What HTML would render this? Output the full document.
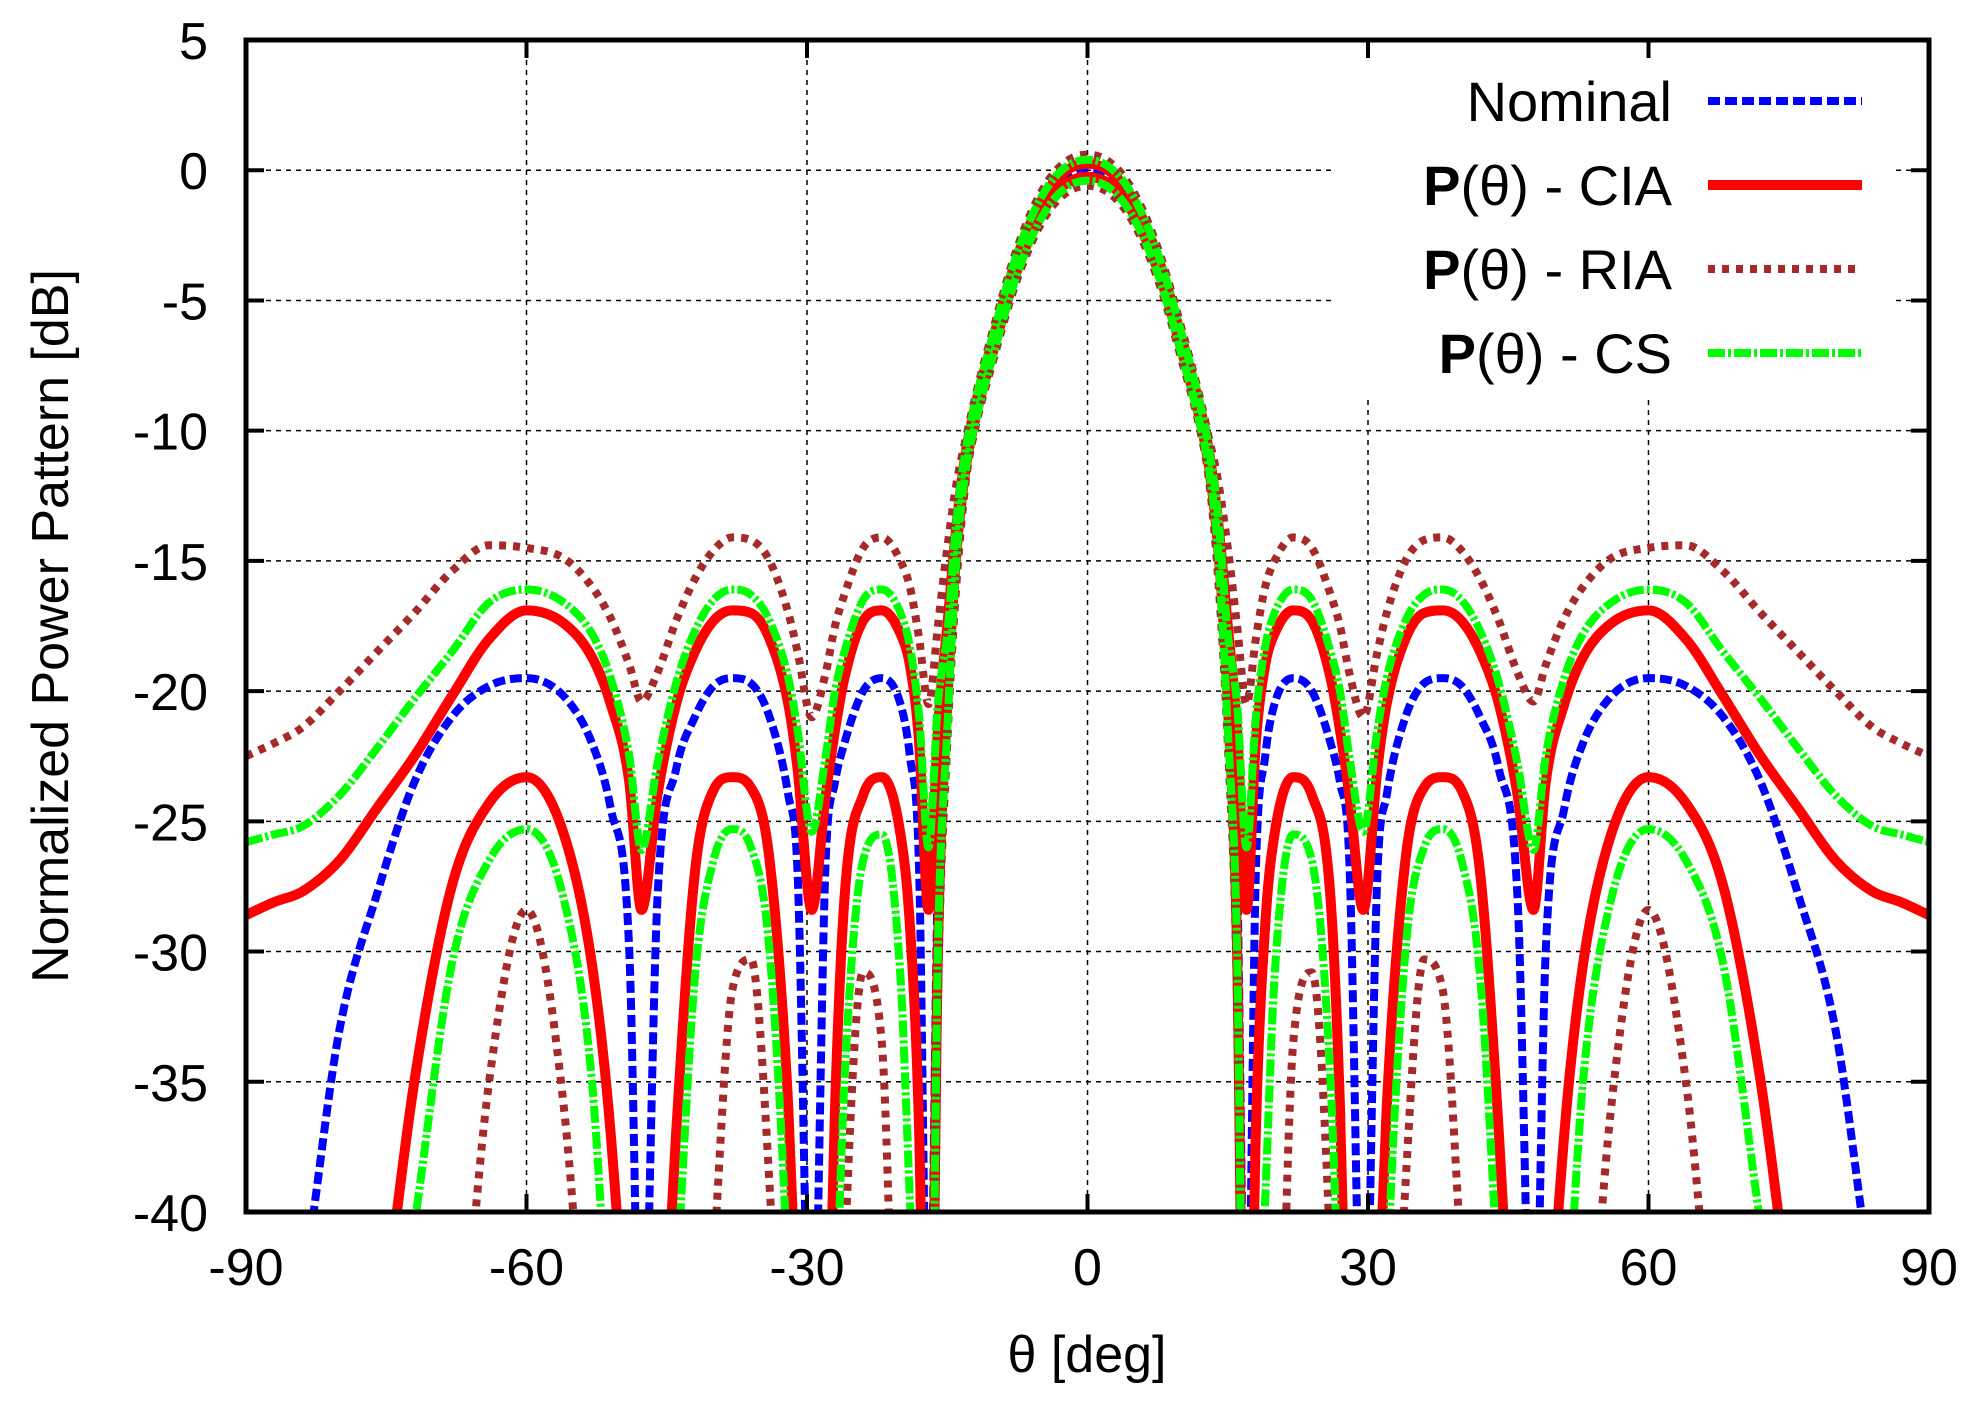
<!DOCTYPE html>
<html><head><meta charset="utf-8">
<style>
html,body{margin:0;padding:0;background:#fff;overflow:hidden;width:1983px;height:1403px;}
svg{display:block;font-family:"Liberation Sans",Arial,sans-serif;}
</style></head>
<body>
<svg id="chart" width="1983" height="1403" viewBox="0 0 1983 1403" xmlns="http://www.w3.org/2000/svg">
<defs><clipPath id="plotclip"><rect x="246" y="40" width="1683" height="1172"/></clipPath></defs>
<g id="grid"></g>
<rect x="1336" y="42" width="560" height="356" fill="#fff"/>
<g id="series" clip-path="url(#plotclip)"></g>
<g id="axes"></g>
<text x="1087" y="1372" font-size="52" text-anchor="middle">θ [deg]</text>
<text transform="translate(68,626) rotate(-90)" font-size="52" text-anchor="middle">Normalized Power Pattern [dB]</text>
<g id="legend"></g>
</svg>
<script>
const xTicks=[-90,-60,-30,0,30,60,90];
const yTicks=[5,0,-5,-10,-15,-20,-25,-30,-35,-40];
// positive-half angles (mirrored for negative side)
const angles=[0,2,4,6,8,10,12,13,14,15,16,17,18,19,20,22,24,26,27,28,29.5,31,32,34,36,38,40,42,44,46,47.7,49,51,53,56,60,64,68,72,76,80,84,87,90];
const nominal=[0,-0.2,-0.9,-2.2,-4.1,-6.6,-9.3,-11.1,-14.1,-19.5,-27,-48,-27,-22.5,-20.5,-19.5,-20,-22,-23.5,-26.5,-48,-27,-24,-21,-19.7,-19.5,-19.8,-21,-23,-28,-48,-30,-24.5,-22,-20.2,-19.5,-19.8,-21,-23.5,-27.8,-33,-43,-48,-55];
const ciaUpper=[0.25,0.05,-0.65,-1.95,-3.85,-6.35,-9.05,-10.8,-13.6,-17.5,-21.5,-28.4,-22,-19,-17.8,-16.9,-17.3,-19.5,-21.5,-24,-28.4,-23,-20.5,-18,-17,-16.9,-17.3,-18.5,-20.5,-24,-28.4,-23.5,-20.5,-18.7,-17.4,-16.9,-18,-20.2,-22.5,-24.5,-26.5,-27.7,-28.1,-28.6];
const ciaLower=[-0.25,-0.45,-1.15,-2.45,-4.35,-6.85,-9.55,-11.4,-14.6,-20.5,-30,-55,-37,-29,-25.5,-23.3,-24,-28,-36,-50,-60,-45,-36,-26.5,-23.7,-23.3,-23.8,-27,-37,-50,-60,-48,-37,-30.5,-25.5,-23.3,-24.3,-27.5,-35,-46,-55,-60,-60,-60];
const riaUpper=[0.6,0.4,-0.3,-1.6,-3.5,-6,-8.7,-10.3,-12,-14.5,-17.5,-20.5,-18,-16,-15,-14.1,-14.5,-16.3,-17.5,-19.3,-21,-18.5,-17,-15,-14.2,-14.1,-14.6,-15.7,-17.3,-19.3,-20.4,-19,-17.2,-16,-14.9,-14.5,-14.4,-15.4,-17,-18.5,-20,-21.4,-22,-22.5];
const riaLower=[-0.6,-0.8,-1.5,-2.8,-4.7,-7.2,-9.9,-11.9,-15.8,-22,-32,-60,-60,-60,-55,-33.5,-30.8,-42,-55,-60,-60,-60,-55,-39,-30.3,-31.5,-42,-55,-60,-60,-60,-60,-60,-50,-36,-28.4,-35,-50,-60,-60,-60,-60,-60,-60];
const csUpper=[0.4,0.2,-0.5,-1.8,-3.7,-6.2,-8.9,-10.7,-13.4,-17.8,-20.5,-26,-21,-18.3,-17,-16.1,-16.5,-18.5,-20,-22.5,-25.4,-21.5,-19.5,-17.3,-16.3,-16.1,-16.5,-17.7,-19.7,-22.8,-26.1,-22.5,-19.5,-17.8,-16.6,-16.1,-16.6,-18.5,-20.3,-22.2,-24,-25.2,-25.5,-25.8];
const csLower=[-0.4,-0.6,-1.3,-2.6,-4.5,-7,-9.7,-11.5,-14.8,-21.5,-30,-55,-48,-39.5,-31,-25.5,-26.5,-35,-45,-55,-60,-55,-43,-30,-26,-25.3,-26.5,-31,-43,-55,-60,-55,-46,-35,-28,-25.3,-26.5,-30.5,-40.5,-50,-60,-60,-60,-60];

const L=246,R=1929,T=40,B=1212;
const xs=v=>L+(v+90)/180*(R-L);
const ys=v=>T+(5-v)/45*(B-T);
const NS="http://www.w3.org/2000/svg";
function mk(tag,attrs,parent){const e=document.createElementNS(NS,tag);for(const k in attrs)e.setAttribute(k,attrs[k]);parent.appendChild(e);return e;}
const grid=document.getElementById('grid'),axes=document.getElementById('axes');
xTicks.forEach(t=>{
  if(t>-90&&t<90){const g=mk('line',{x1:xs(t),x2:xs(t),y1:T,y2:B,stroke:'#000','stroke-width':1.5,'stroke-dasharray':'5,5'},grid);
  
  }
  const a=mk('line',{x1:xs(t),x2:xs(t),y1:B,y2:B-18,stroke:'#000','stroke-width':4},axes);
  
  
  const b=mk('line',{x1:xs(t),x2:xs(t),y1:T,y2:T+18,stroke:'#000','stroke-width':4},axes);
  
  
  const tx=mk('text',{x:xs(t),y:1285,'font-size':52,'text-anchor':'middle'},axes);tx.textContent=t;
  
  
});
yTicks.forEach(t=>{
  if(t<5&&t>-40){const g=mk('line',{x1:L,x2:R,y1:ys(t),y2:ys(t),stroke:'#000','stroke-width':1.5,'stroke-dasharray':'5,5'},grid);
  
  }
  const a=mk('line',{x1:L,x2:L+18,y1:ys(t),y2:ys(t),stroke:'#000','stroke-width':4},axes);
  
  
  const b=mk('line',{x1:R,x2:R-18,y1:ys(t),y2:ys(t),stroke:'#000','stroke-width':4},axes);
  
  
  const tx=mk('text',{x:208,y:ys(t)+19,'font-size':52,'text-anchor':'end'},axes);tx.textContent=t;
  
  
});
const frame=mk('rect',{x:L,y:T,width:R-L,height:B-T,fill:'none',stroke:'#000','stroke-width':5},axes);



function monotonePath(px,py){
  const n=px.length,d=[],m=[];
  for(let i=0;i<n-1;i++)d.push((py[i+1]-py[i])/(px[i+1]-px[i]));
  m[0]=d[0];m[n-1]=d[n-2];
  for(let i=1;i<n-1;i++){m[i]=(d[i-1]*d[i]<=0)?0:(d[i-1]+d[i])/2;}
  for(let i=0;i<n-1;i++){if(d[i]===0){m[i]=0;m[i+1]=0;continue;}const a=m[i]/d[i],b=m[i+1]/d[i],s=a*a+b*b;if(s>9){const t=3/Math.sqrt(s);m[i]=t*a*d[i];m[i+1]=t*b*d[i];}}
  let p='M'+px[0].toFixed(1)+','+py[0].toFixed(1);
  for(let i=0;i<n-1;i++){const h=px[i+1]-px[i];p+=' C'+(px[i]+h/3).toFixed(1)+','+(py[i]+m[i]*h/3).toFixed(1)+' '+(px[i+1]-h/3).toFixed(1)+','+(py[i+1]-m[i+1]*h/3).toFixed(1)+' '+px[i+1].toFixed(1)+','+py[i+1].toFixed(1);}
  return p;
}
function full(vals){
  const a=[],v=[];
  for(let i=angles.length-1;i>0;i--){a.push(-angles[i]);v.push(vals[i]);}
  for(let i=0;i<angles.length;i++){a.push(angles[i]);v.push(vals[i]);}
  return [a.map(xs),v.map(ys)];
}
const sg=document.getElementById('series');
function drawSeries(vals,name,color,w,dash){
  const [px,py]=full(vals);
  const p=mk('path',{d:monotonePath(px,py),fill:'none',stroke:color,'stroke-width':w,'stroke-dasharray':dash,'stroke-linejoin':'round'},sg);
  
  
}
const S={nom:['#0000ff',8,'12,5'],cia:['#ff0000',10,'none'],ria:['#a52a2a',8,'7,7'],cs:['#00ff00',8,'17,3,3,3']};
drawSeries(nominal,'nominal-line',...S.nom);
drawSeries(ciaUpper,'cia-upper-line',...S.cia);
drawSeries(ciaLower,'cia-lower-line',...S.cia);
drawSeries(riaUpper,'ria-upper-line',...S.ria);
drawSeries(riaLower,'ria-lower-line',...S.ria);
drawSeries(csUpper,'cs-upper-line',...S.cs);
drawSeries(csLower,'cs-lower-line',...S.cs);

const lg=document.getElementById('legend');
const entries=[['Nominal',null,S.nom,101],['P','CIA',S.cia,185],['P','RIA',S.ria,269],['P','CS',S.cs,353]];
entries.forEach(e=>{
  const t=mk('text',{x:1672,y:e[3]+20,'font-size':56,'text-anchor':'end'},lg);
  if(e[1]===null){t.textContent=e[0];}
  else{const b=mk('tspan',{'font-weight':'bold'},t);b.textContent='P';const r=mk('tspan',{},t);r.textContent='(θ) - '+e[1];}
  
  
  const l=mk('line',{x1:1708,x2:1862,y1:e[3],y2:e[3],stroke:e[2][0],'stroke-width':e[2][1],'stroke-dasharray':e[2][2]},lg);
  
  
});
</script>
</body></html>
